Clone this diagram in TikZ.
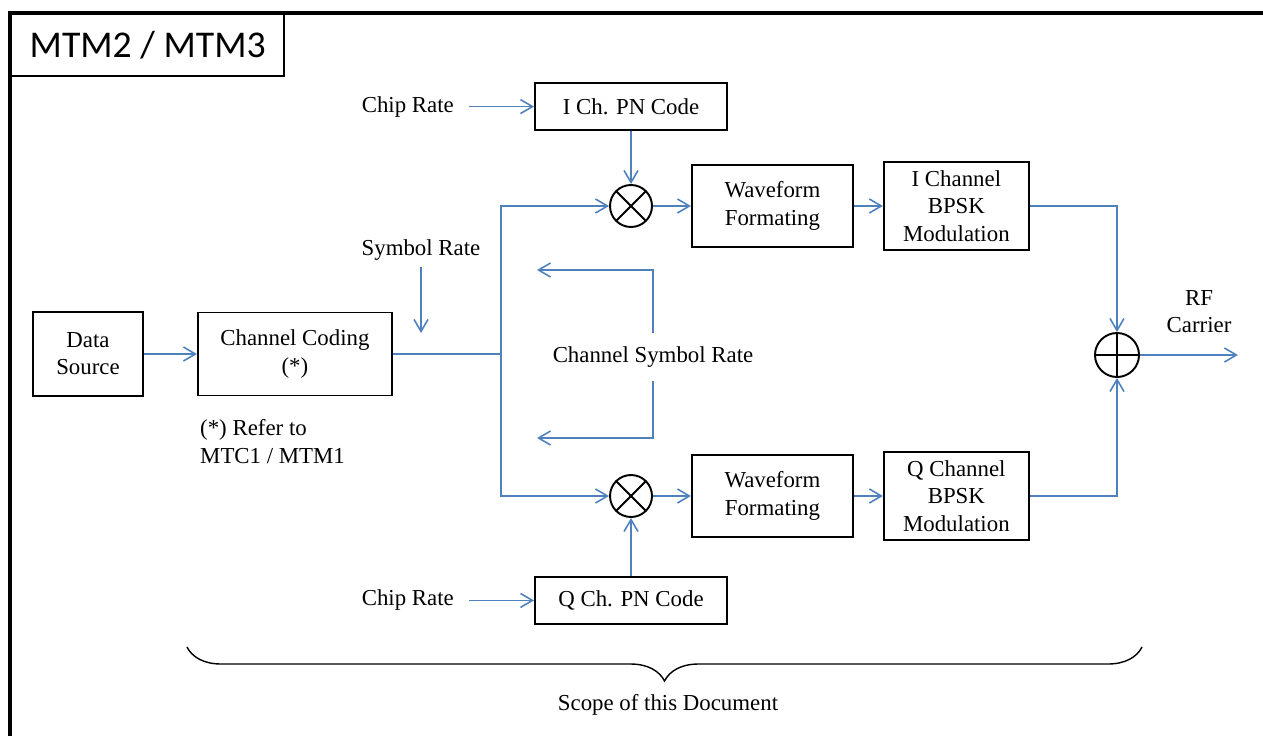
\documentclass[tikz,border=0pt]{standalone}
\usepackage{fontspec}
\setmainfont{Liberation Serif}
\newfontfamily\titlefont{Carlito}
\usetikzlibrary{positioning, arrows.meta, decorations.pathreplacing}
\definecolor{sigblue}{HTML}{4F81BD}
\tikzset{
        every node/.style={font=\fontsize{13}{15.5}\selectfont}, % text size of all labels
        block/.style={draw, line width=1.1pt, align=center, inner sep=2pt}, % the black boxes
        wire/.style={draw=sigblue, line width=0.9pt}, % blue lines without a head
        sig/.style={wire, -{Straight Barb[length=2.4mm, width=2.8mm]}}, % blue lines with open heads
        mixer/.style={circle, draw, line width=1.1pt, minimum size=0.84cm, inner sep=0pt},
        mult/.style={mixer, path picture={
                \draw[line width=1.1pt] (path picture bounding box.north west) -- (path picture bounding box.south east)
                      (path picture bounding box.north east) -- (path picture bounding box.south west);}},
        summer/.style={mixer, minimum size=0.88cm, path picture={
                \draw[line width=1.1pt] (path picture bounding box.north) -- (path picture bounding box.south)
                      (path picture bounding box.west) -- (path picture bounding box.east);}},
    }

\begin{document}
\begin{tikzpicture}
    \useasboundingbox (0,0) rectangle (25.26,-14.72);
    % frame and title
    \draw[line width=1.8pt] (0.2,-14.72) -- (0.2,-0.26) -- (25.26,-0.26);
    \node[draw, line width=1.4pt, anchor=north west, minimum width=5.46cm, minimum height=1.24cm,
          font=\titlefont\fontsize{21.5}{24}\selectfont] (title) at (0.2,-0.26) {MTM2 / MTM3};

    % source side
    \node[block, minimum width=2.2cm, minimum height=1.68cm] (src) at (1.76,-7.08) {Data\\Source};
    \node[block, minimum width=3.88cm, minimum height=1.66cm, right=1.06cm of src] (cc) {Channel Coding\\(*)};
    \node[anchor=west, align=left] (note) at (3.88,-8.83) {(*) Refer to\\MTC1 / MTM1};
    \node (symr) at (8.42,-5.0) {Symbol Rate};
    \coordinate (symend) at (8.42,-6.66);
    \coordinate[right=2.16cm of cc.east] (split);

    % I and Q branches
    \node[mult] (imul) at (12.62,-4.12) {};
    \node[mult] (qmul) at (12.62,-9.92) {};
    \node[block, minimum width=3.84cm, minimum height=0.94cm, above=1.06cm of imul] (ipn) {I Ch. PN Code};
    \node[block, minimum width=3.84cm, minimum height=0.94cm, below=1.16cm of qmul] (qpn) {Q Ch. PN Code};
    \node[left=1.48cm of ipn] (chipi) {Chip Rate};
    \node[left=1.48cm of qpn] (chipq) {Chip Rate};
    \node[block, minimum width=3.22cm, minimum height=1.64cm, right=0.76cm of imul] (iwf) {Waveform\\Formating};
    \node[block, minimum width=3.22cm, minimum height=1.64cm, right=0.76cm of qmul] (qwf) {Waveform\\Formating};
    \node[block, minimum width=2.9cm, minimum height=1.76cm, right=0.58cm of iwf] (imod) {I Channel\\BPSK\\Modulation};
    \node[block, minimum width=2.9cm, minimum height=1.76cm, right=0.58cm of qwf] (qmod) {Q Channel\\BPSK\\Modulation};

    \node[inner ysep=0.27cm] (csr) at (13.06,-7.14) {Channel Symbol Rate};
    \coordinate (csrtop) at (10.74,-5.4);
    \coordinate (csrbot) at (10.74,-8.76);

    % output side
    \node[summer] (sum) at (22.34,-7.1) {};
    \node[align=center] (rf) at (23.98,-6.24) {RF\\Carrier};
    \coordinate[right=1.96cm of sum.east] (rfout);

    \draw[sig] (src) -- (cc);
    \draw[wire] (cc.east) -- (split);
    \draw[sig] (symr) -- (symend);
    \draw[sig] (split) |- (imul);
    \draw[sig] (split) |- (qmul);
    \draw[sig, shorten <=0.18cm] (chipi) -- (ipn);
    \draw[sig, shorten <=0.18cm] (chipq) -- (qpn);
    \draw[sig] (ipn) -- (imul);
    \draw[sig] (qpn) -- (qmul);
    \draw[sig] (imul) -- (iwf);
    \draw[sig] (qmul) -- (qwf);
    \draw[sig] (iwf) -- (imod);
    \draw[sig] (qwf) -- (qmod);
    \draw[sig] (csr.north) |- (csrtop);
    \draw[sig] (csr.south) |- (csrbot);
    \draw[sig] (imod) -| (sum);
    \draw[sig] (qmod) -| (sum);
    \draw[sig] (sum) -- (rfout);

    % scope brace
    \coordinate (bl) at (3.74,-12.94);
    \coordinate (br) at (22.84,-12.94);
    \draw[decorate, decoration={brace, mirror, amplitude=0.68cm}, line width=0.8pt] (bl) -- (br);
    \node (scope) at (13.36,-14.1) {Scope of this Document};
\end{tikzpicture}
\end{document}
